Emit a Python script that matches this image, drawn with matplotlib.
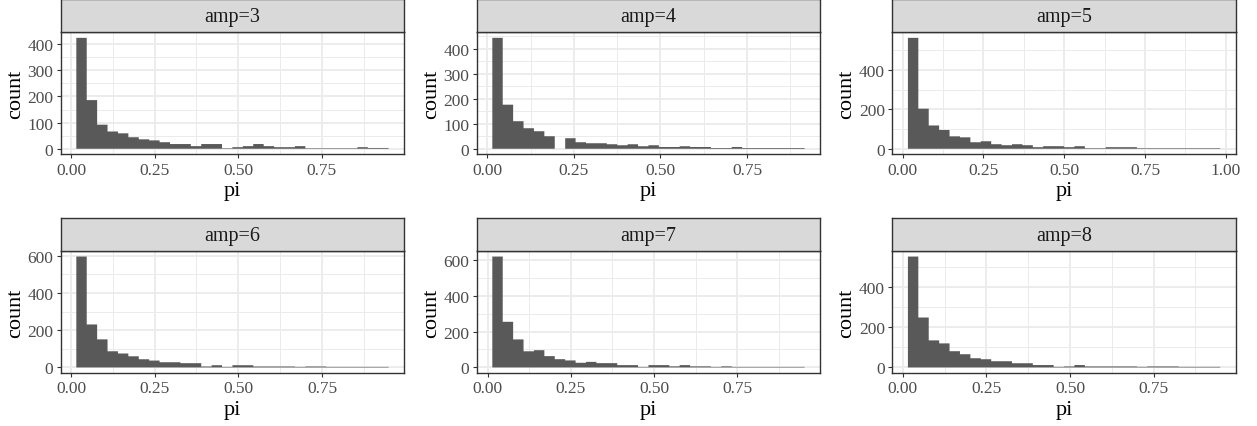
import numpy as np
import matplotlib
matplotlib.use("Agg")
import matplotlib.pyplot as plt
from matplotlib.ticker import MultipleLocator, FixedLocator

plt.rcParams['font.family'] = ['Liberation Serif', 'DejaVu Serif']

amps = [3, 4, 5, 6, 7, 8]
# histogram counts (30 bins per panel)
counts_amp3 = [424, 186, 92, 66, 59, 44, 36, 32, 25, 18, 18, 10, 18, 18, 2, 6, 10, 18, 10, 6, 6, 10, 2, 2, 2, 2, 2, 6, 3, 3]
counts_amp4 = [443, 176, 110, 82, 70, 50, 0, 42, 26, 22, 22, 18, 14, 18, 10, 14, 7, 7, 10, 7, 7, 3, 3, 7, 3, 3, 3, 3, 3, 3]
counts_amp5 = [562, 203, 118, 95, 63, 58, 33, 38, 23, 18, 23, 18, 8, 13, 13, 8, 13, 3, 3, 8, 8, 8, 3, 3, 3, 3, 3, 3, 3, 3]
counts_amp6 = [596, 231, 151, 87, 75, 60, 44, 37, 28, 28, 23, 23, 5, 12, 3, 12, 12, 5, 5, 5, 5, 3, 5, 5, 3, 3, 3, 3, 3, 3]
counts_amp7 = [617, 254, 156, 90, 96, 63, 46, 39, 26, 31, 24, 24, 13, 13, 3, 13, 13, 6, 13, 6, 6, 3, 6, 3, 3, 3, 3, 3, 3, 3]
counts_amp8 = [553, 249, 135, 120, 81, 66, 46, 41, 31, 31, 21, 21, 12, 12, 3, 5, 12, 5, 5, 5, 5, 5, 3, 5, 5, 5, 3, 3, 3, 3]
all_counts = [counts_amp3, counts_amp4, counts_amp5, counts_amp6, counts_amp7, counts_amp8]
# histogram range (left edge of first bin, right edge of last bin)
bin_lo = [0.016, 0.0144, 0.016, 0.016, 0.014, 0.015]
bin_hi = [0.950, 0.9163, 0.983, 0.949, 0.952, 0.949]
x_ticks = [[0, 0.25, 0.5, 0.75], [0, 0.25, 0.5, 0.75], [0, 0.25, 0.5, 0.75, 1.0],
           [0, 0.25, 0.5, 0.75], [0, 0.25, 0.5, 0.75], [0, 0.25, 0.5, 0.75]]
y_step = [100, 100, 200, 200, 200, 200]

W, H = 1257, 427
fig = plt.figure(figsize=(W / 100, H / 100), dpi=100)

col_left = [60.7, 476.7, 892.3]
panel_w = 343.5
row_top = [33.3, 252.0]     # panel top (px)
panel_h = 122.0
strip_h = 33.3

grid_c = '#EBEBEB'
dark = '#333333'
bar_c = '#595959'

for i, amp in enumerate(amps):
    r, c = divmod(i, 3)
    left = col_left[c] / W
    bottom = 1 - (row_top[r] + panel_h) / H
    ax = fig.add_axes([left, bottom, panel_w / W, panel_h / H])
    cnt = np.array(all_counts[i], dtype=float)
    edges = np.linspace(bin_lo[i], bin_hi[i], len(cnt) + 1)
    st = ax.stairs(cnt, edges, baseline=0, fill=True, color=bar_c, linewidth=0, zorder=2)
    st.set_snap(False)
    xr = bin_hi[i] - bin_lo[i]
    ax.set_xlim(bin_lo[i] - 0.05 * xr, bin_hi[i] + 0.05 * xr)
    ym = cnt.max()
    ax.set_ylim(-0.05 * ym, ym * 1.05)
    ax.xaxis.set_major_locator(FixedLocator(x_ticks[i]))
    ax.xaxis.set_minor_locator(MultipleLocator(0.125))
    ax.yaxis.set_major_locator(MultipleLocator(y_step[i]))
    ax.yaxis.set_minor_locator(MultipleLocator(y_step[i] / 2))
    ax.set_xticklabels(['%.2f' % t for t in x_ticks[i]])
    ax.grid(which='major', color=grid_c, linewidth=1.3, zorder=0)
    ax.grid(which='minor', color=grid_c, linewidth=0.7, zorder=0)
    ax.set_axisbelow(True)
    ax.tick_params(which='minor', length=0)
    ax.tick_params(which='major', length=3.2, width=0.8, color=dark, labelcolor='#4D4D4D',
                   labelsize=12.5, pad=2)
    for s in ax.spines.values():
        s.set_color(dark)
        s.set_linewidth(1.0)
    ax.set_xlabel('pi', fontsize=16, labelpad=2.5)
    ax.set_ylabel('count', fontsize=16, labelpad=2)
    # facet strip
    sax = fig.add_axes([left, 1 - row_top[r] / H, panel_w / W, strip_h / H])
    sax.set_facecolor('#D9D9D9')
    sax.set_xticks([])
    sax.set_yticks([])
    for s in sax.spines.values():
        s.set_color(dark)
        s.set_linewidth(1.0)
    sax.text(0.5, 0.47, 'amp=%d' % amp, ha='center', va='center', fontsize=14.5,
             color='#1A1A1A', transform=sax.transAxes)

fig.savefig('out.png', dpi=100, facecolor='white')
